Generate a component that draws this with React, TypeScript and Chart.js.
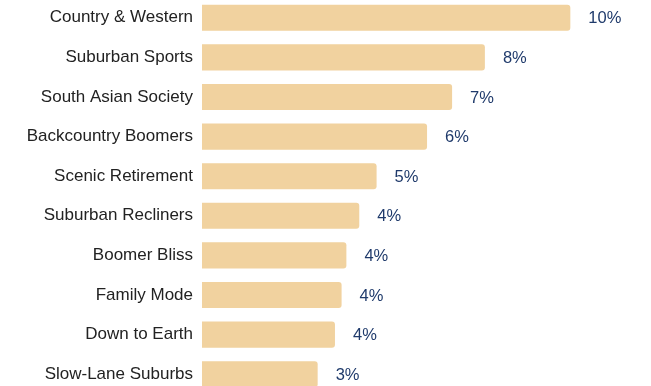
import React, { useEffect, useRef } from "react";
import { Chart, registerables } from "chart.js";

Chart.register(...registerables);

const categories = [
  "Country & Western",
  "Suburban Sports",
  "South Asian Society",
  "Backcountry Boomers",
  "Scenic Retirement",
  "Suburban Recliners",
  "Boomer Bliss",
  "Family Mode",
  "Down to Earth",
  "Slow-Lane Suburbs",
];
const values = [10.0, 7.68, 6.79, 6.11, 4.74, 4.27, 3.92, 3.79, 3.61, 3.14];
const valueLabels = ["10%", "8%", "7%", "6%", "5%", "4%", "4%", "4%", "4%", "3%"];

const valueLabelPlugin = {
  id: "valueLabels",
  afterDatasetsDraw(chart: any) {
    const ctx = chart.ctx;
    const meta = chart.getDatasetMeta(0);
    ctx.save();
    ctx.font = "16.5px 'Liberation Sans', Arial, sans-serif";
    ctx.fillStyle = "#1f3a6b";
    ctx.textAlign = "left";
    ctx.textBaseline = "middle";
    meta.data.forEach((bar: any, i: number) => {
      ctx.fillText(valueLabels[i], bar.x + 18, bar.y + 1);
    });
    ctx.restore();
  },
};

export default function App() {
  const ref = useRef<HTMLCanvasElement | null>(null);
  useEffect(() => {
    document.body.style.margin = "0";
    const chart = new Chart(ref.current as HTMLCanvasElement, {
      type: "bar",
      data: {
        labels: categories,
        datasets: [
          {
            data: values,
            backgroundColor: "#f1d29f",
            borderRadius: 3,
            borderSkipped: "start",
            barPercentage: 0.66,
            categoryPercentage: 1,
          },
        ],
      },
      options: {
        indexAxis: "y",
        animation: false,
        responsive: false,
        layout: { padding: { left: 0, right: 7, top: 0, bottom: 0 } },
        plugins: { legend: { display: false }, tooltip: { enabled: false } },
        scales: {
          x: { display: false, min: 0, max: 12 },
          y: {
            afterFit: (scale: any) => {
              scale.width = 202;
              scale.paddingTop = 0;
              scale.paddingBottom = 0;
            },
            grid: { display: false, drawTicks: false },
            border: { display: false },
            ticks: {
              padding: 9,
              color: "#222222",
              font: { size: 17, family: "'Liberation Sans', Arial, sans-serif" },
            },
          },
        },
      },
      plugins: [valueLabelPlugin],
    });
    return () => chart.destroy();
  }, []);
  return (
    <div style={{ position: "fixed", left: 0, top: -2, width: 651, height: 396 }}>
      <canvas ref={ref} width={651} height={396} style={{ display: "block" }} />
    </div>
  );
}
